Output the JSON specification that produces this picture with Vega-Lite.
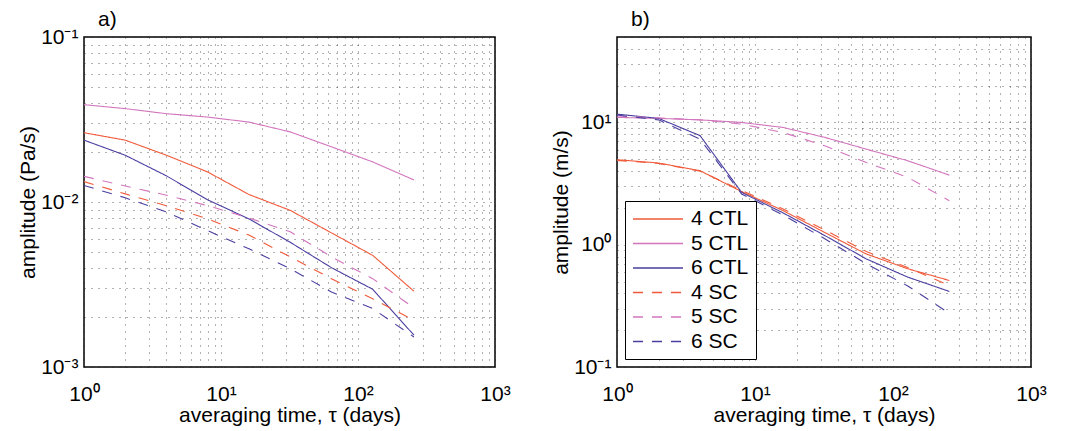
{
  "$schema": "https://vega.github.io/schema/vega-lite/v6.json",
  "background": "white",
  "padding": {"left": 16, "top": 8, "right": 5, "bottom": 5},
  "bounds": "flush",
  "spacing": 122,
  "config": {
    "font": "Liberation Sans",
    "view": {"stroke": "#000", "strokeWidth": 1.5},
    "axis": {
      "domain": false,
      "grid": true,
      "gridColor": "#222",
      "gridDash": [1, 6],
      "gridOpacity": 0.7,
      "gridWidth": 1,
      "ticks": false,
      "labelFontSize": 21,
      "labelColor": "#000",
      "titleFontSize": 21,
      "titleFontWeight": "normal",
      "titleColor": "#000",
      "labelOverlap": false,
      "labelFlush": false
    },
    "title": {"fontSize": 21, "fontWeight": "normal", "anchor": "start", "frame": "group", "color": "#000"}
  },
  "resolve": {"scale": {"color": "independent", "strokeDash": "independent"}},
  "datasets": {
    "a": [
      {"series": "4 CTL", "tau": 1, "amp": 0.0263}, {"series": "4 CTL", "tau": 2, "amp": 0.0237}, {"series": "4 CTL", "tau": 4, "amp": 0.0192}, {"series": "4 CTL", "tau": 8, "amp": 0.0152}, {"series": "4 CTL", "tau": 16, "amp": 0.0111}, {"series": "4 CTL", "tau": 32, "amp": 0.0089}, {"series": "4 CTL", "tau": 64, "amp": 0.0065}, {"series": "4 CTL", "tau": 128, "amp": 0.00475}, {"series": "4 CTL", "tau": 256, "amp": 0.00288},
      {"series": "5 CTL", "tau": 1, "amp": 0.0389}, {"series": "5 CTL", "tau": 2, "amp": 0.0368}, {"series": "5 CTL", "tau": 4, "amp": 0.0343}, {"series": "5 CTL", "tau": 8, "amp": 0.0327}, {"series": "5 CTL", "tau": 16, "amp": 0.0305}, {"series": "5 CTL", "tau": 32, "amp": 0.0266}, {"series": "5 CTL", "tau": 64, "amp": 0.0216}, {"series": "5 CTL", "tau": 128, "amp": 0.0175}, {"series": "5 CTL", "tau": 256, "amp": 0.0136},
      {"series": "6 CTL", "tau": 1, "amp": 0.0237}, {"series": "6 CTL", "tau": 2, "amp": 0.0192}, {"series": "6 CTL", "tau": 4, "amp": 0.0144}, {"series": "6 CTL", "tau": 8, "amp": 0.0103}, {"series": "6 CTL", "tau": 16, "amp": 0.0079}, {"series": "6 CTL", "tau": 32, "amp": 0.0057}, {"series": "6 CTL", "tau": 64, "amp": 0.0040}, {"series": "6 CTL", "tau": 128, "amp": 0.00296}, {"series": "6 CTL", "tau": 256, "amp": 0.00156},
      {"series": "4 SC", "tau": 1, "amp": 0.0133}, {"series": "4 SC", "tau": 2, "amp": 0.0112}, {"series": "4 SC", "tau": 4, "amp": 0.0095}, {"series": "4 SC", "tau": 8, "amp": 0.0079}, {"series": "4 SC", "tau": 16, "amp": 0.0063}, {"series": "4 SC", "tau": 32, "amp": 0.00465}, {"series": "4 SC", "tau": 64, "amp": 0.00343}, {"series": "4 SC", "tau": 128, "amp": 0.00259}, {"series": "4 SC", "tau": 256, "amp": 0.00192},
      {"series": "5 SC", "tau": 1, "amp": 0.0143}, {"series": "5 SC", "tau": 2, "amp": 0.0125}, {"series": "5 SC", "tau": 4, "amp": 0.0110}, {"series": "5 SC", "tau": 8, "amp": 0.0095}, {"series": "5 SC", "tau": 16, "amp": 0.0080}, {"series": "5 SC", "tau": 32, "amp": 0.0066}, {"series": "5 SC", "tau": 64, "amp": 0.00465}, {"series": "5 SC", "tau": 128, "amp": 0.00343}, {"series": "5 SC", "tau": 256, "amp": 0.00228},
      {"series": "6 SC", "tau": 1, "amp": 0.0126}, {"series": "6 SC", "tau": 2, "amp": 0.0106}, {"series": "6 SC", "tau": 4, "amp": 0.0087}, {"series": "6 SC", "tau": 8, "amp": 0.0067}, {"series": "6 SC", "tau": 16, "amp": 0.0052}, {"series": "6 SC", "tau": 32, "amp": 0.00394}, {"series": "6 SC", "tau": 64, "amp": 0.00285}, {"series": "6 SC", "tau": 128, "amp": 0.00226}, {"series": "6 SC", "tau": 256, "amp": 0.00152}
    ],
    "b": [
      {"series": "4 CTL", "tau": 1, "amp": 4.96}, {"series": "4 CTL", "tau": 2, "amp": 4.66}, {"series": "4 CTL", "tau": 4, "amp": 4.03}, {"series": "4 CTL", "tau": 8, "amp": 2.72}, {"series": "4 CTL", "tau": 16, "amp": 1.90}, {"series": "4 CTL", "tau": 32, "amp": 1.26}, {"series": "4 CTL", "tau": 64, "amp": 0.84}, {"series": "4 CTL", "tau": 128, "amp": 0.636}, {"series": "4 CTL", "tau": 256, "amp": 0.51},
      {"series": "5 CTL", "tau": 1, "amp": 11.0}, {"series": "5 CTL", "tau": 2, "amp": 10.8}, {"series": "5 CTL", "tau": 4, "amp": 10.5}, {"series": "5 CTL", "tau": 8, "amp": 10.0}, {"series": "5 CTL", "tau": 16, "amp": 9.1}, {"series": "5 CTL", "tau": 32, "amp": 7.55}, {"series": "5 CTL", "tau": 64, "amp": 6.05}, {"series": "5 CTL", "tau": 128, "amp": 4.86}, {"series": "5 CTL", "tau": 256, "amp": 3.71},
      {"series": "6 CTL", "tau": 1, "amp": 11.7}, {"series": "6 CTL", "tau": 2, "amp": 10.8}, {"series": "6 CTL", "tau": 4, "amp": 7.8}, {"series": "6 CTL", "tau": 8, "amp": 2.68}, {"series": "6 CTL", "tau": 16, "amp": 1.82}, {"series": "6 CTL", "tau": 32, "amp": 1.19}, {"series": "6 CTL", "tau": 64, "amp": 0.766}, {"series": "6 CTL", "tau": 128, "amp": 0.543}, {"series": "6 CTL", "tau": 256, "amp": 0.415},
      {"series": "4 SC", "tau": 1, "amp": 4.9}, {"series": "4 SC", "tau": 2, "amp": 4.62}, {"series": "4 SC", "tau": 4, "amp": 4.0}, {"series": "4 SC", "tau": 8, "amp": 2.78}, {"series": "4 SC", "tau": 16, "amp": 1.96}, {"series": "4 SC", "tau": 32, "amp": 1.32}, {"series": "4 SC", "tau": 64, "amp": 0.88}, {"series": "4 SC", "tau": 128, "amp": 0.65}, {"series": "4 SC", "tau": 256, "amp": 0.465},
      {"series": "5 SC", "tau": 1, "amp": 11.3}, {"series": "5 SC", "tau": 2, "amp": 10.9}, {"series": "5 SC", "tau": 4, "amp": 10.5}, {"series": "5 SC", "tau": 8, "amp": 9.7}, {"series": "5 SC", "tau": 16, "amp": 8.28}, {"series": "5 SC", "tau": 32, "amp": 6.45}, {"series": "5 SC", "tau": 64, "amp": 4.7}, {"series": "5 SC", "tau": 128, "amp": 3.56}, {"series": "5 SC", "tau": 256, "amp": 2.29},
      {"series": "6 SC", "tau": 1, "amp": 11.5}, {"series": "6 SC", "tau": 2, "amp": 10.5}, {"series": "6 SC", "tau": 4, "amp": 7.3}, {"series": "6 SC", "tau": 8, "amp": 2.6}, {"series": "6 SC", "tau": 16, "amp": 1.75}, {"series": "6 SC", "tau": 32, "amp": 1.12}, {"series": "6 SC", "tau": 64, "amp": 0.70}, {"series": "6 SC", "tau": 128, "amp": 0.46}, {"series": "6 SC", "tau": 256, "amp": 0.275}
    ]
  },
  "hconcat": [
    {
      "width": 411,
      "height": 330,
      "title": {"text": "a)", "dx": 14, "offset": -4},
      "data": {"name": "a"},
      "mark": {"type": "line", "strokeWidth": 1.1, "clip": true},
      "encoding": {
        "x": {
          "field": "tau", "type": "quantitative",
          "scale": {"type": "log", "domain": [1, 1000], "nice": false},
          "axis": {
            "title": "averaging time, τ (days)",
            "values": [1,2,3,4,5,6,7,8,9,10,20,30,40,50,60,70,80,90,100,200,300,400,500,600,700,800,900,1000],
            "labelExpr": "abs(log(datum.value)/LN10 - round(log(datum.value)/LN10)) < 0.001 ? '10' + ['⁻³','⁻²','⁻¹','⁰','¹','²','³'][round(log(datum.value)/LN10)+3] : ''",
            "labelPadding": 16,
            "titlePadding": 0
          }
        },
        "y": {
          "field": "amp", "type": "quantitative",
          "scale": {"type": "log", "domain": [0.001, 0.1], "nice": false},
          "axis": {
            "title": "amplitude (Pa/s)",
            "values": [0.001,0.002,0.003,0.004,0.005,0.006,0.007,0.008,0.009,0.01,0.02,0.03,0.04,0.05,0.06,0.07,0.08,0.09,0.1],
            "labelExpr": "abs(log(datum.value)/LN10 - round(log(datum.value)/LN10)) < 0.001 ? '10' + ['⁻³','⁻²','⁻¹','⁰','¹','²','³'][round(log(datum.value)/LN10)+3] : ''",
            "labelPadding": 6,
            "titlePadding": 2
          }
        },
        "color": {
          "field": "series", "type": "nominal",
          "scale": {"domain": ["4 CTL","5 CTL","6 CTL","4 SC","5 SC","6 SC"], "range": ["#f05a3a","#d275bd","#4a3fa0","#f05a3a","#d275bd","#4a3fa0"]},
          "legend": null
        },
        "strokeDash": {
          "field": "series", "type": "nominal",
          "scale": {"domain": ["4 CTL","5 CTL","6 CTL","4 SC","5 SC","6 SC"], "range": [[1,0],[1,0],[1,0],[10,9],[10,9],[10,9]]},
          "legend": null
        }
      }
    },
    {
      "width": 414,
      "height": 330,
      "title": {"text": "b)", "dx": 14, "offset": -4},
      "data": {"name": "b"},
      "mark": {"type": "line", "strokeWidth": 1.1, "clip": true},
      "encoding": {
        "x": {
          "field": "tau", "type": "quantitative",
          "scale": {"type": "log", "domain": [1, 1000], "nice": false},
          "axis": {
            "title": "averaging time, τ (days)",
            "values": [1,2,3,4,5,6,7,8,9,10,20,30,40,50,60,70,80,90,100,200,300,400,500,600,700,800,900,1000],
            "labelExpr": "abs(log(datum.value)/LN10 - round(log(datum.value)/LN10)) < 0.001 ? '10' + ['⁻³','⁻²','⁻¹','⁰','¹','²','³'][round(log(datum.value)/LN10)+3] : ''",
            "labelPadding": 16,
            "titlePadding": 0
          }
        },
        "y": {
          "field": "amp", "type": "quantitative",
          "scale": {"type": "log", "domain": [0.1, 50], "nice": false},
          "axis": {
            "title": "amplitude (m/s)",
            "values": [0.1,0.2,0.3,0.4,0.5,0.6,0.7,0.8,0.9,1,2,3,4,5,6,7,8,9,10,20,30,40,50],
            "labelExpr": "abs(log(datum.value)/LN10 - round(log(datum.value)/LN10)) < 0.001 ? '10' + ['⁻³','⁻²','⁻¹','⁰','¹','²','³'][round(log(datum.value)/LN10)+3] : ''",
            "labelPadding": 6,
            "titlePadding": 2
          }
        },
        "color": {
          "field": "series", "type": "nominal",
          "scale": {"domain": ["4 CTL","5 CTL","6 CTL","4 SC","5 SC","6 SC"], "range": ["#f05a3a","#d275bd","#4a3fa0","#f05a3a","#d275bd","#4a3fa0"]},
          "legend": {
            "title": null,
            "orient": "bottom-left",
            "offset": 8,
            "symbolType": "M-2.5,0H2.5",
            "symbolSize": 400,
            "symbolOffset": 15,
            "symbolStrokeWidth": 1.3,
            "labelFontSize": 21,
            "labelColor": "#000",
            "labelOffset": 22,
            "rowPadding": 3.5,
            "strokeColor": "#000",
            "fillColor": "white",
            "padding": 7,
            "cornerRadius": 0
          }
        },
        "strokeDash": {
          "field": "series", "type": "nominal",
          "scale": {"domain": ["4 CTL","5 CTL","6 CTL","4 SC","5 SC","6 SC"], "range": [[1,0],[1,0],[1,0],[10,9],[10,9],[10,9]]},
          "legend": {
            "title": null,
            "orient": "bottom-left",
            "offset": 8,
            "symbolType": "M-2.5,0H2.5",
            "symbolSize": 400,
            "symbolOffset": 15,
            "symbolStrokeWidth": 1.3,
            "labelFontSize": 21,
            "labelColor": "#000",
            "labelOffset": 22,
            "rowPadding": 3.5,
            "strokeColor": "#000",
            "fillColor": "white",
            "padding": 7,
            "cornerRadius": 0
          }
        }
      }
    }
  ]
}
